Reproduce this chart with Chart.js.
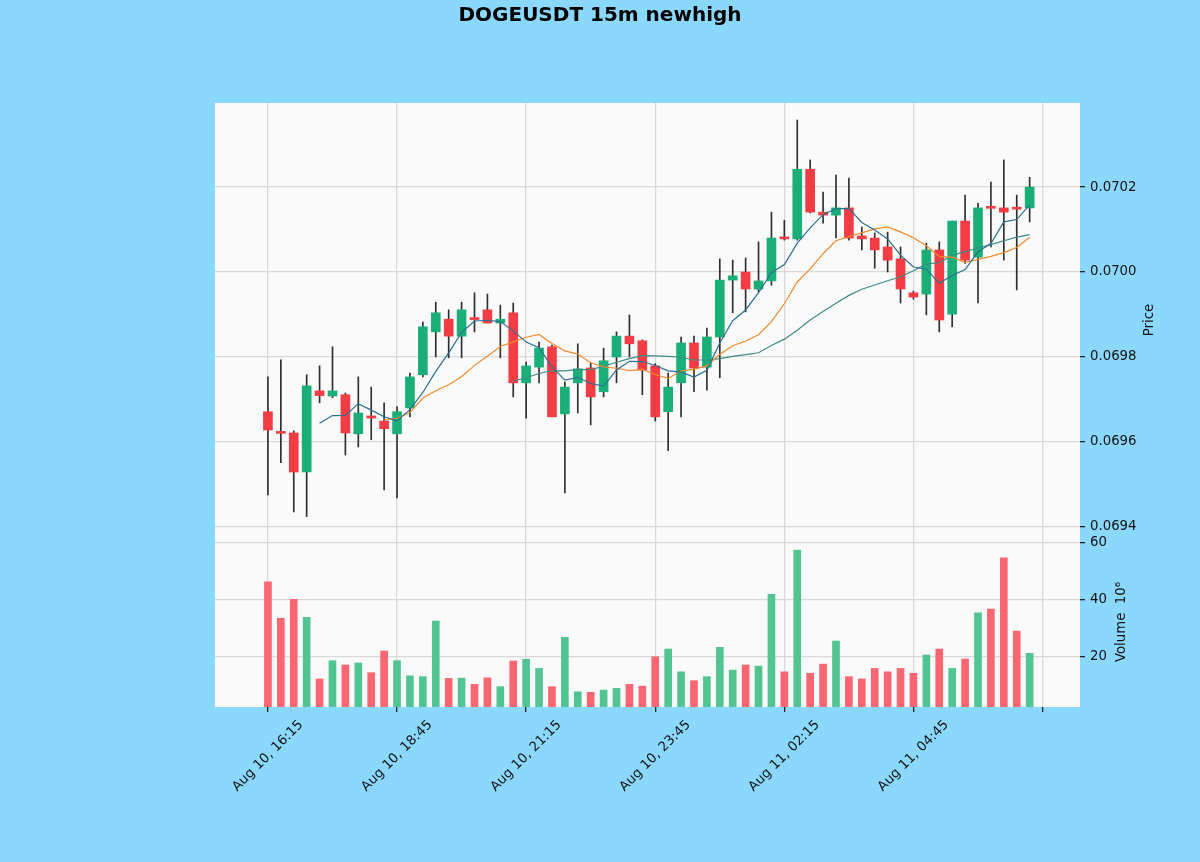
<!DOCTYPE html>
<html>
<head>
<meta charset="utf-8">
<title>DOGEUSDT 15m newhigh</title>
<script src="https://cdn.jsdelivr.net/npm/chart.js@4.4.1/dist/chart.umd.min.js"></script>
<style>
  html, body { margin: 0; padding: 0; background: #8bd8fe; }
  canvas { display: block; }
</style>
</head>
<body>
<canvas id="chart" width="1200" height="862"></canvas>
<script>
// 15m candles, Aug 10 16:15 onwards
const opens = [0.069671, 0.069622, 0.069621, 0.069529, 0.069720, 0.069708, 0.069711, 0.069619, 0.069661, 0.069649,
               0.069619, 0.069680, 0.069758, 0.069859, 0.069889, 0.069849, 0.069890, 0.069911, 0.069880, 0.069904,
               0.069739, 0.069776, 0.069824, 0.069666, 0.069739, 0.069774, 0.069718, 0.069800, 0.069849, 0.069838,
               0.069779, 0.069671, 0.069739, 0.069833, 0.069776, 0.069847, 0.069981, 0.070000, 0.069960, 0.069979,
               0.070081, 0.070078, 0.070242, 0.070141, 0.070134, 0.070151, 0.070085, 0.070080, 0.070059, 0.070031,
               0.069951, 0.069948, 0.070052, 0.069901, 0.070120, 0.070035, 0.070153, 0.070151, 0.070151, 0.070151];
const highs = [0.069753, 0.069793, 0.069626, 0.069758, 0.069779, 0.069824, 0.069715, 0.069753, 0.069729, 0.069692,
               0.069683, 0.069762, 0.069882, 0.069929, 0.069911, 0.069929, 0.069951, 0.069948, 0.069922, 0.069927,
               0.069788, 0.069835, 0.069828, 0.069741, 0.069831, 0.069786, 0.069821, 0.069859, 0.069899, 0.069840,
               0.069784, 0.069762, 0.069847, 0.069849, 0.069868, 0.070031, 0.070028, 0.070033, 0.070071, 0.070141,
               0.070122, 0.070358, 0.070264, 0.070188, 0.070228, 0.070221, 0.070106, 0.070092, 0.070094, 0.070059,
               0.069955, 0.070068, 0.070071, 0.070120, 0.070181, 0.070162, 0.070212, 0.070264, 0.070181, 0.070223];
const lows = [0.069475, 0.069551, 0.069435, 0.069424, 0.069692, 0.069704, 0.069569, 0.069588, 0.069605, 0.069487,
              0.069468, 0.069659, 0.069753, 0.069800, 0.069798, 0.069798, 0.069859, 0.069880, 0.069798, 0.069706,
              0.069656, 0.069739, 0.069659, 0.069480, 0.069668, 0.069640, 0.069706, 0.069739, 0.069800, 0.069711,
              0.069649, 0.069579, 0.069659, 0.069718, 0.069722, 0.069751, 0.069904, 0.069906, 0.069953, 0.069969,
              0.070075, 0.070075, 0.070139, 0.070115, 0.070080, 0.070075, 0.070052, 0.070009, 0.070000, 0.069927,
              0.069936, 0.069899, 0.069859, 0.069871, 0.070020, 0.069927, 0.070059, 0.070028, 0.069958, 0.070118];
const closes = [0.069628, 0.069620, 0.069529, 0.069732, 0.069709, 0.069720, 0.069621, 0.069668, 0.069656, 0.069631,
                0.069671, 0.069753, 0.069871, 0.069904, 0.069849, 0.069911, 0.069888, 0.069880, 0.069889, 0.069739,
                0.069779, 0.069821, 0.069659, 0.069729, 0.069772, 0.069706, 0.069791, 0.069849, 0.069831, 0.069769,
                0.069659, 0.069729, 0.069833, 0.069774, 0.069847, 0.069981, 0.069991, 0.069960, 0.069979, 0.070080,
                0.070078, 0.070242, 0.070141, 0.070134, 0.070151, 0.070080, 0.070078, 0.070052, 0.070028, 0.069960,
                0.069941, 0.070052, 0.069887, 0.070120, 0.070028, 0.070151, 0.070150, 0.070141, 0.070148, 0.070200];
// volume in units of 10^6
const volumes = [46.4, 33.6, 40.2, 33.9, 12.3, 18.7, 17.2, 17.9, 14.5, 22.1,
                 18.7, 13.4, 13.1, 32.6, 12.5, 12.6, 10.4, 12.7, 9.6, 18.6,
                 19.2, 16.0, 9.6, 26.9, 7.8, 7.6, 8.4, 9.0, 10.4, 9.8,
                 20.1, 22.8, 14.8, 11.7, 13.1, 23.4, 15.4, 17.2, 16.8, 42.0,
                 14.8, 57.5, 14.3, 17.5, 25.6, 13.1, 12.3, 16.0, 14.8, 16.0,
                 14.3, 20.7, 22.8, 16.0, 19.3, 35.5, 36.8, 54.8, 29.1, 21.3];
// one label every 10 candles, the last tick has none
const xTickLabels = ['Aug 10, 16:15', 'Aug 10, 18:45', 'Aug 10, 21:15', 'Aug 10, 23:45',
                     'Aug 11, 02:15', 'Aug 11, 04:45', ''];
const priceTicks = [0.0694, 0.0696, 0.0698, 0.0700, 0.0702];
const volumeTicks = [20, 40, 60];
const mavPeriods = [5, 10, 20];
const mavColors = ['#2b6f91', '#f08a2c', '#3c8b84'];

const upColor = '#1aaf78';
const downColor = '#f43c45';
const upVolColor = '#52c492';
const downVolColor = '#fa6672';
const gridColor = '#d9d9d9';

function movingAverage(values, n) {
    return values.map((v, i) => {
        if (i < n - 1) return null;
        let sum = 0;
        for (let k = i - n + 1; k <= i; k++) sum += values[k];
        return sum / n;
    });
}

const isUp = closes.map((c, i) => c >= opens[i]);

const datasets = [];
mavPeriods.forEach((n, k) => {
    datasets.push({
        type: 'line',
        data: movingAverage(closes, n).map((v, i) => ({ x: i, y: v })),
        yAxisID: 'y',
        borderColor: mavColors[k],
        borderWidth: 1.2,
        pointRadius: 0,
        spanGaps: false,
        order: 0
    });
});
datasets.push({
    type: 'bar',
    data: opens.map((o, i) => ({ x: i, y: [o, closes[i]] })),
    yAxisID: 'y',
    backgroundColor: isUp.map(u => u ? upColor : downColor),
    barThickness: 9,
    minBarLength: 2,
    grouped: false,
    order: 1
});
datasets.push({
    type: 'bar',
    data: lows.map((l, i) => ({ x: i, y: [l, highs[i]] })),
    yAxisID: 'y',
    backgroundColor: '#2e2e2e',
    barThickness: 1,
    grouped: false,
    order: 2
});
datasets.push({
    type: 'bar',
    data: volumes.map((v, i) => ({ x: i, y: v })),
    yAxisID: 'y2',
    backgroundColor: isUp.map(u => u ? upVolColor : downVolColor),
    barThickness: 7,
    grouped: false,
    order: 1
});

// background, title, x labels at 45 degrees (centred on the tick) and the axis titles
const panelPlugin = {
    id: 'panels',
    beforeDraw(chart) {
        const { ctx, chartArea: a } = chart;
        ctx.save();
        ctx.fillStyle = '#8bd8fe';
        ctx.fillRect(0, 0, chart.width, chart.height);
        ctx.fillStyle = '#fafafa';
        ctx.fillRect(a.left, a.top, a.right - a.left, a.bottom - a.top);
        ctx.restore();
    },
    afterDraw(chart) {
        const { ctx } = chart;
        const x = chart.scales.x;
        const yP = chart.scales.y;
        const yV = chart.scales.y2;
        ctx.save();
        ctx.textAlign = 'center';
        ctx.textBaseline = 'middle';
        ctx.fillStyle = '#000';
        ctx.font = 'bold 20px "DejaVu Sans"';
        ctx.fillText('DOGEUSDT 15m newhigh', 600, 16);

        ctx.fillStyle = '#111';
        ctx.font = '13.3px "DejaVu Sans"';
        xTickLabels.forEach((t, k) => {
            if (!t) return;
            ctx.save();
            ctx.translate(x.getPixelForValue(k * 10), x.top + 49);
            ctx.rotate(-Math.PI / 4);
            ctx.fillText(t, 0, 0);
            ctx.restore();
        });
        ctx.save();
        ctx.translate(1150, (yP.top + yP.bottom) / 2);
        ctx.rotate(-Math.PI / 2);
        ctx.fillText('Price', 0, 0);
        ctx.restore();
        ctx.save();
        ctx.translate(1122, (yV.top + yV.bottom) / 2);
        ctx.rotate(-Math.PI / 2);
        ctx.fillText('Volume  10\u2076', 0, 0);
        ctx.restore();
        ctx.restore();
    }
};

Chart.defaults.font.family = '"DejaVu Sans", sans-serif';
Chart.defaults.font.size = 13.3;
Chart.defaults.color = '#111';

new Chart(document.getElementById('chart'), {
    data: { datasets: datasets },
    options: {
        responsive: false,
        animation: false,
        layout: { padding: { left: 215, right: 0, top: 103, bottom: 0 } },
        plugins: {
            legend: { display: false },
            tooltip: { enabled: false },
            title: { display: false }
        },
        scales: {
            x: {
                type: 'linear',
                offset: false,
                min: -4.1,
                max: 62.9,
                afterBuildTicks: s => { s.ticks = xTickLabels.map((_, k) => ({ value: k * 10 })); },
                afterFit: s => { s.height = 155; },
                ticks: { display: false },
                grid: { offset: false, color: gridColor, lineWidth: 1.3, tickLength: 5, tickColor: '#222' },
                border: { display: false }
            },
            y: {
                type: 'linear',
                position: 'right',
                stack: 'panels',
                stackWeight: 434,
                min: 0.069376,
                max: 0.070398,
                afterBuildTicks: s => { s.ticks = priceTicks.map(v => ({ value: v })); },
                afterFit: s => { s.width = 120; },
                ticks: { callback: v => v.toFixed(4), padding: 5 },
                grid: { color: gridColor, lineWidth: 1.3, tickLength: 5, tickColor: '#222' },
                border: { display: false }
            },
            y2: {
                type: 'linear',
                position: 'right',
                stack: 'panels',
                stackWeight: 170,
                min: 2.46,
                max: 62.1,
                afterBuildTicks: s => { s.ticks = volumeTicks.map(v => ({ value: v })); },
                afterFit: s => { s.width = 120; },
                ticks: { callback: v => String(v), padding: 5 },
                grid: { color: gridColor, lineWidth: 1.3, tickLength: 5, tickColor: '#222' },
                border: { display: false }
            }
        }
    },
    plugins: [panelPlugin]
});
</script>
</body>
</html>
